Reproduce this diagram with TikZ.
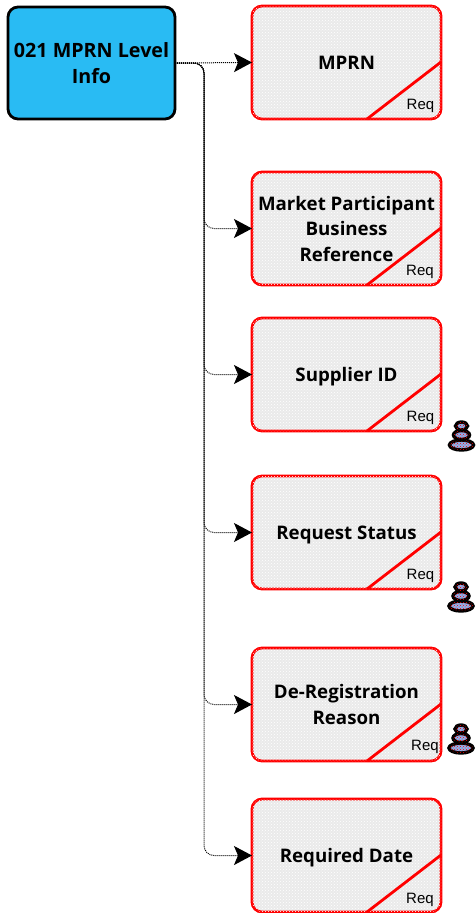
\documentclass[tikz,border=0pt]{standalone}
\usepackage{fontspec}
\setmainfont{Liberation Sans}
\newfontfamily\titlefont[BoldFont={Open Sans Bold}]{Open Sans}
\usetikzlibrary{positioning,arrows.meta,patterns}
\definecolor{infoblue}{HTML}{29BBF3}
\definecolor{boxgrey}{HTML}{EAEAEA}
\definecolor{iconblue}{HTML}{8CB4F0}
\tikzset{
	info/.style = {draw=black, line width=2.8pt, rounded corners=10pt, fill=infoblue, minimum width=167pt, minimum height=112pt, outer sep=0pt, align=center, font=\titlefont\bfseries\fontsize{19.7}{25.5}\selectfont},
	field/.style = {draw=red, line width=2.8pt, rounded corners=10pt, fill=boxgrey, postaction={pattern=crosshatch dots, pattern color=white}, minimum width=189pt, minimum height=113pt, outer sep=0pt, align=center, font=\titlefont\bfseries\fontsize{18.7}{25.5}\selectfont},
	oneline/.style = {text height=17pt, text depth=3pt},
	corner/.style = {draw=red, line width=2.8pt},
	req/.style = {font=\fontsize{15}{17}\selectfont, inner sep=0pt},
	link/.style = {draw=black, line width=1pt, dash pattern=on 1pt off 1pt, rounded corners=10pt, -{Stealth[length=18pt, width=19pt, inset=4pt, sep=0pt]}},
	stackicon/.pic = {
		\draw[line width=3.4pt, fill=iconblue, postaction={pattern=crosshatch dots, pattern color=red}] (0,-25) ellipse (12pt and 5pt);
		\draw[line width=3.4pt, fill=iconblue, postaction={pattern=crosshatch dots, pattern color=red}] (0,-15) ellipse (8pt and 4.5pt);
		\draw[line width=3.4pt, fill=iconblue, postaction={pattern=crosshatch dots, pattern color=red}] (0,-6) ellipse (6pt and 4pt);
	}
}
\begin{document}
\begin{tikzpicture}[x=1pt, y=1pt, node distance = 50pt]
	\useasboundingbox (0,0) rectangle (476,-913);
	\node[info] (info) at (91.5,-63) {021 MPRN Level\\Info};
	\node[field, oneline] (mprn) at (346.5,-62.5) {MPRN};
	\node[field, below = 53pt of mprn] (market) {Market Participant\\Business\\Reference};
	\node[field, oneline, below = 33pt of market] (supplier) {Supplier ID};
	\node[field, oneline, below = 45pt of supplier] (status) {Request Status};
	\node[field, below = 59pt of status] (reason) {De-Registration\\Reason};
	\node[field, oneline, below = 38pt of reason] (date) {Required Date};
	\draw[corner] ([xshift=-74pt]mprn.south east) -- ([yshift=57pt]mprn.south east);
	\draw[corner] ([xshift=-74pt]market.south east) -- ([yshift=57pt]market.south east);
	\draw[corner] ([xshift=-74pt]supplier.south east) -- ([yshift=57pt]supplier.south east);
	\draw[corner] ([xshift=-74pt]status.south east) -- ([yshift=57pt]status.south east);
	\draw[corner] ([xshift=-74pt]reason.south east) -- ([yshift=57pt]reason.south east);
	\draw[corner] ([xshift=-74pt]date.south east) -- ([yshift=57pt]date.south east);
	\node[req] (req1) at ([shift={(-20.5,13)}]mprn.south east) {Req};
	\node[req] (req2) at ([shift={(-21,13)}]market.south east) {Req};
	\node[req] (req3) at ([shift={(-20.5,13)}]supplier.south east) {Req};
	\node[req] (req4) at ([shift={(-20.5,13)}]status.south east) {Req};
	\node[req] (req5) at ([shift={(-16,14)}]reason.south east) {Req};
	\node[req] (req6) at ([shift={(-21,12)}]date.south east) {Req};
	\draw[link] (info.east) -- (mprn.west);
	\draw[link] (info.east) -- ++(29,0) |- (market.west);
	\draw[link] (info.east) -- ++(29,0) |- (supplier.west);
	\draw[link] (info.east) -- ++(29,0) |- (status.west);
	\draw[link] (info.east) -- ++(29,0) |- (reason.west);
	\draw[link] (info.east) -- ++(29,0) |- (date.west);
	\pic at ([shift={(20.5,11)}]supplier.south east) {stackicon};
	\pic at ([shift={(20,8)}]status.south east) {stackicon};
	\pic at ([shift={(20,38)}]reason.south east) {stackicon};
\end{tikzpicture}
\end{document}
